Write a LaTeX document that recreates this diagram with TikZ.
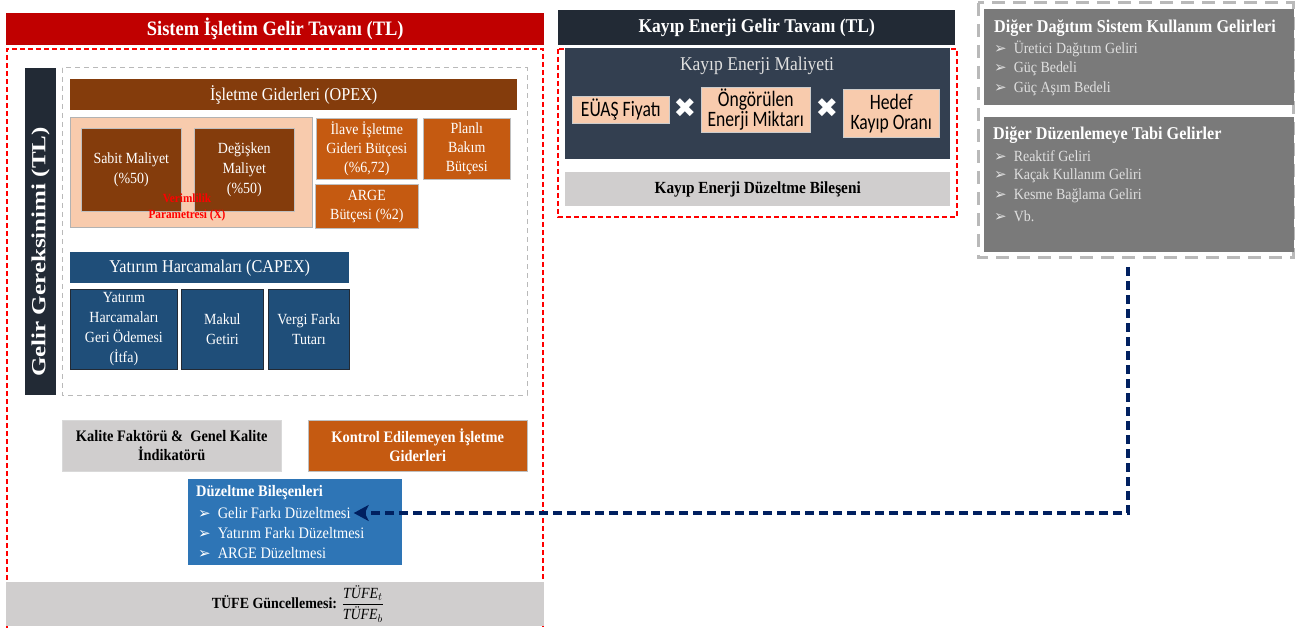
\documentclass[tikz,border=0pt]{standalone}
\usepackage{fontspec}
\usepackage{amsmath}
\usepackage{graphicx}
\setmainfont{Liberation Serif}[FakeStretch=0.9]
\newfontfamily\calibri{Carlito}[FakeStretch=0.8]
\newfontfamily\dejavu{DejaVu Sans}
\usepackage{tikz}
\usetikzlibrary{arrows.meta}
\usepackage{xcolor}

\definecolor{kirmizi}{HTML}{C00000}
\definecolor{koyu}{HTML}{222A35}
\definecolor{koyumavi}{HTML}{333F50}
\definecolor{kahve}{HTML}{843C0C}
\definecolor{turuncu}{HTML}{C55A11}
\definecolor{seftali}{HTML}{F8CBAD}
\definecolor{lacivert}{HTML}{1F4E79}
\definecolor{acikmavi}{HTML}{2E75B6}
\definecolor{acikgri}{HTML}{D0CECE}
\definecolor{koyugri}{HTML}{7A7A7A}
\definecolor{griyazi}{HTML}{E0E0E0}
\definecolor{okrengi}{HTML}{002060}

\newcommand{\yazi}[2]{\fontsize{#1}{#2}\selectfont}
\newcommand{\ok}{{\dejavu\fontsize{15}{15}\selectfont ➢}}

\tikzset{
  kutu/.style={anchor=north west, inner sep=0pt, align=center},
  baslik/.style={kutu, text=white, font=\bfseries\yazi{20.5}{24}},
  kahvekutu/.style={kutu, fill=kahve, draw=gray!50, line width=0.6pt, text=white, font=\yazi{15.5}{20}},
  turuncukutu/.style={kutu, fill=turuncu, draw=gray!50, line width=0.6pt, text=white, font=\yazi{15.5}{19}},
  mavikutu/.style={kutu, fill=lacivert, draw=koyu, line width=0.8pt, text=white, font=\yazi{15.5}{20}},
  seftalikutu/.style={kutu, fill=seftali, draw=gray!40, line width=0.5pt, text=black, font=\calibri\yazi{22}{20}},
  carpi/.style={text=white, inner sep=0pt, font=\dejavu\yazi{27}{27}},
  madde/.style={anchor=west, inner sep=0pt, text=white, font=\yazi{16}{19}},
  sagmadde/.style={anchor=west, inner sep=0pt, text=griyazi, font=\yazi{15.5}{19}},
  kirmizikesik/.style={draw=red, line width=1.2pt, dash pattern=on 5pt off 3pt},
  grikesik/.style={draw=gray!55, line width=1pt, dash pattern=on 5pt off 4pt},
  kalinkesik/.style={draw=gray!55, line width=3pt, dash pattern=on 13pt off 8pt},
  okcizgi/.style={draw=okrengi, line width=3.5pt, dash pattern=on 9pt off 5pt,
    -{Stealth[length=15pt, width=16pt, inset=4pt]}}
}

\begin{document}
\begin{tikzpicture}[x=1pt, y=-1pt]
\useasboundingbox (0,0) rectangle (1295,628);

% Sistem isletim gelir tavani
\node[baslik, fill=kirmizi, minimum width=538pt, minimum height=32pt] (sistembaslik) at (6,13) {Sistem İşletim Gelir Tavanı (TL)};
\draw[kirmizikesik] (7,628) -- (7,49) -- (543,49) -- (543,628);

% Gelir gereksinimi
\node[kutu, fill=koyu, minimum width=31pt, minimum height=327pt] (gelirbar) at (25,68) {};
\node[rotate=90, inner sep=0pt, text=white, font=\bfseries\yazi{20}{24}] (gelirgerek) at (40.5,252) {\scalebox{1.39}[1]{Gelir Gereksinimi (TL)}};
\draw[grikesik] (62,68) rectangle (527,395);

% OPEX
\node[kutu, fill=kahve, text=white, font=\yazi{18}{20}, minimum width=447pt, minimum height=31pt] (opex) at (70,79) {İşletme Giderleri (OPEX)};
\node[kutu, fill=seftali, draw=gray!60, line width=0.8pt, minimum width=242pt, minimum height=110pt] (verimkutu) at (70,117) {};
\node[kahvekutu, minimum width=100pt, minimum height=83pt] (sabit) at (81,128) {Sabit Maliyet\\(\%50)};
\node[kahvekutu, minimum width=100pt, minimum height=83pt] (degisken) at (194,128) {Değişken\\Maliyet\\(\%50)};
\node[text=red, inner sep=0pt, align=center, font=\bfseries\yazi{12.5}{16}] (verimlilik) at (187,207) {Verimlilik\\Parametresi (X)};
\node[turuncukutu, minimum width=101pt, minimum height=61pt] (ilave) at (316,118) {İlave İşletme\\Gideri Bütçesi\\(\%6,72)};
\node[turuncukutu, minimum width=87pt, minimum height=61pt] (planli) at (423,118) {Planlı\\Bakım\\Bütçesi};
\node[turuncukutu, minimum width=103pt, minimum height=44pt] (arge) at (315,184) {ARGE\\Bütçesi (\%2)};

% CAPEX
\node[kutu, fill=lacivert, text=white, font=\yazi{18}{20}, minimum width=279pt, minimum height=31pt] (capex) at (70,252) {Yatırım Harcamaları (CAPEX)};
\node[mavikutu, minimum width=107pt, minimum height=80pt] (itfa) at (70,289) {Yatırım\\Harcamaları\\Geri Ödemesi\\(İtfa)};
\node[mavikutu, minimum width=82pt, minimum height=80pt] (makul) at (181,289) {Makul\\Getiri};
\node[mavikutu, minimum width=81pt, minimum height=80pt] (vergi) at (268,289) {Vergi Farkı\\Tutarı};

% Kalite ve kontrol edilemeyen giderler
\node[kutu, fill=acikgri, draw=gray!30, font=\bfseries\yazi{16}{19}, minimum width=219pt, minimum height=51pt] (kalite) at (62,420) {Kalite Faktörü \&\ \ Genel Kalite\\İndikatörü};
\node[kutu, fill=turuncu, draw=gray!50, text=white, font=\bfseries\yazi{16}{19}, minimum width=219pt, minimum height=51pt] (kontrol) at (308,420) {Kontrol Edilemeyen İşletme\\Giderleri};

% Duzeltme bilesenleri
\node[kutu, fill=acikmavi, minimum width=214pt, minimum height=86pt] (duzeltme) at (188,479) {};
\node[madde, font=\bfseries\yazi{16}{19}] (duzbaslik) at (196,493) {Düzeltme Bileşenleri};
\node[madde] (gelirfarki) at (198,513) {\ok\hspace{7pt}Gelir Farkı Düzeltmesi};
\node[madde] (yatirimfarki) at (198,533) {\ok\hspace{7pt}Yatırım Farkı Düzeltmesi};
\node[madde] (argeduz) at (198,553) {\ok\hspace{7pt}ARGE Düzeltmesi};

% TUFE
\node[kutu, fill=acikgri, minimum width=538pt, minimum height=44pt] (tufebar) at (6,582) {};
\node[inner sep=0pt, font=\yazi{15.5}{18}] (tufe) at (298,604) {\textbf{TÜFE Güncellemesi:} $\dfrac{\textit{TÜFE}_t}{\textit{TÜFE}_b}$};

% Kayip enerji
\node[baslik, fill=koyu, minimum width=397pt, minimum height=35pt, font=\bfseries\yazi{19.5}{22}] (kayipbaslik) at (558,10) {Kayıp Enerji Gelir Tavanı (TL)};
\draw[kirmizikesik] (558,49) rectangle (957,217);
\node[kutu, fill=koyumavi, minimum width=385pt, minimum height=111pt] (maliyet) at (565,48) {};
\node[inner sep=0pt, text=griyazi, font=\yazi{19.5}{22}] (maliyetbaslik) at (757,66) {Kayıp Enerji Maliyeti};
\node[seftalikutu, minimum width=97pt, minimum height=27pt] (euas) at (572,96) {EÜAŞ Fiyatı};
\node[carpi] (carpi1) at (685,108) {✖};
\node[seftalikutu, minimum width=109pt, minimum height=45pt] (ongorulen) at (701,87) {Öngörülen\\Enerji Miktarı};
\node[carpi] (carpi2) at (827,108) {✖};
\node[seftalikutu, minimum width=96pt, minimum height=48pt] (hedef) at (843,89) {Hedef\\Kayıp Oranı};
\node[kutu, fill=acikgri, font=\bfseries\yazi{17}{20}, minimum width=385pt, minimum height=34pt] (kayipduz) at (565,172) {Kayıp Enerji Düzeltme Bileşeni};

% Diger gelirler
\draw[kalinkesik] (978,3) rectangle (1293,258);
\node[kutu, fill=koyugri, minimum width=310pt, minimum height=96pt] (digerdagitim) at (984,9) {};
\node[madde, font=\bfseries\yazi{18}{20}] (dagitimbaslik) at (994,28) {Diğer Dağıtım Sistem Kullanım Gelirleri};
\node[sagmadde] (uretici) at (994,49) {\ok\hspace{7pt}Üretici Dağıtım Geliri};
\node[sagmadde] (gucbedeli) at (994,69) {\ok\hspace{7pt}Güç Bedeli};
\node[sagmadde] (gucasim) at (994,89) {\ok\hspace{7pt}Güç Aşım Bedeli};
\node[kutu, fill=koyugri, minimum width=310pt, minimum height=135pt] (digerduzen) at (984,117) {};
\node[madde, font=\bfseries\yazi{18}{20}] (duzenbaslik) at (993,135) {Diğer Düzenlemeye Tabi Gelirler};
\node[sagmadde] (reaktif) at (994,156) {\ok\hspace{7pt}Reaktif Geliri};
\node[sagmadde] (kacak) at (994,176) {\ok\hspace{7pt}Kaçak Kullanım Geliri};
\node[sagmadde] (kesme) at (994,196) {\ok\hspace{7pt}Kesme Bağlama Geliri};
\node[sagmadde] (vb) at (994,216) {\ok\hspace{7pt}Vb.};

% Ok
\coordinate (okbasi) at (1128,267);
\draw[okcizgi] (okbasi) |- ([xshift=3pt]gelirfarki.east);
\end{tikzpicture}
\end{document}
